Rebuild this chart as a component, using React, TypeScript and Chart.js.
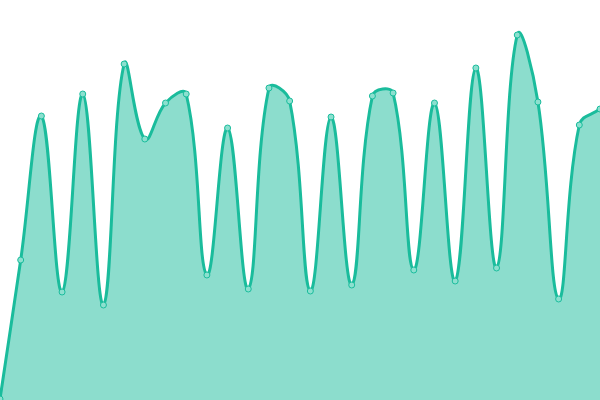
import React, { useEffect, useRef } from "react";
import { Chart, registerables } from "chart.js";

Chart.register(...registerables);

const labels: string[] = Array.from({ length: 30 }, (_, i) => String(i + 1));
const values: number[] = [
  1, 140, 284, 108, 306, 95, 336, 261, 297, 306,
  125, 272, 111, 312, 299, 109, 283, 115, 304, 307,
  130, 297, 119, 332, 132, 365, 298, 101, 275, 291,
];
const yMin = 0;
const yMax = 400;

export default function App() {
  const ref = useRef<HTMLCanvasElement | null>(null);
  useEffect(() => {
    if (!ref.current) return;
    const chart = new Chart(ref.current, {
      type: "line",
      data: {
        labels,
        datasets: [
          {
            data: values,
            borderColor: "#1abc9c",
            backgroundColor: "rgba(26,188,156,0.5)",
            pointBackgroundColor: "rgba(140,224,207,1)",
            pointBorderColor: "#1abc9c",
            pointBorderWidth: 1,
            pointRadius: 3,
            borderWidth: 3,
            fill: true,
            tension: 0.4,
          },
        ],
      },
      options: {
        responsive: false,
        animation: false,
        layout: { padding: 0, autoPadding: false },
        plugins: { legend: { display: false }, tooltip: { enabled: false } },
        scales: {
          x: { display: false },
          y: { display: false, min: yMin, max: yMax },
        },
      },
    });
    return () => chart.destroy();
  }, []);
  return (
    <div style={{ position: "fixed", left: 0, top: 0, width: 600, height: 400, background: "#fff" }}>
      <canvas ref={ref} width={600} height={400} />
    </div>
  );
}
